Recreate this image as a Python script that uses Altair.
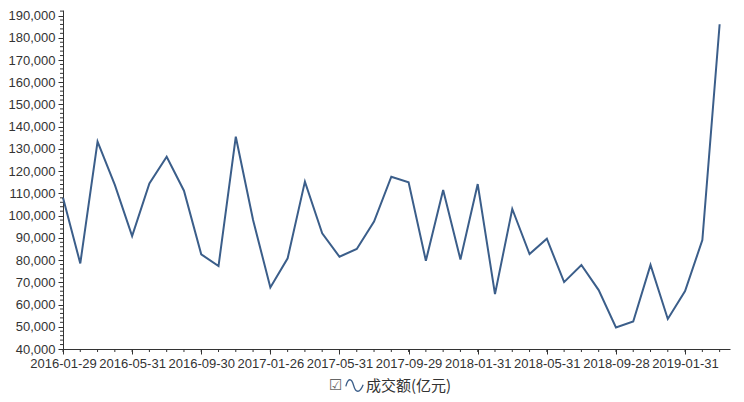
import altair as alt
import pandas as pd

# Month-end trading dates (x categories)
dates = [
    "2016-01-29", "2016-02-29", "2016-03-31", "2016-04-29", "2016-05-31", "2016-06-30",
    "2016-07-29", "2016-08-31", "2016-09-30", "2016-10-31", "2016-11-30", "2016-12-30",
    "2017-01-26", "2017-02-28", "2017-03-31", "2017-04-28", "2017-05-31", "2017-06-30",
    "2017-07-31", "2017-08-31", "2017-09-29", "2017-10-31", "2017-11-30", "2017-12-29",
    "2018-01-31", "2018-02-28", "2018-03-30", "2018-04-27", "2018-05-31", "2018-06-29",
    "2018-07-31", "2018-08-31", "2018-09-28", "2018-10-31", "2018-11-30", "2018-12-28",
    "2019-01-31", "2019-02-28", "2019-03-29",
]
# 成交额(亿元)
values = [
    108000, 78500, 133300, 113800, 90800, 114500, 126500, 111200, 82600, 77300, 135500, 98000,
    67700, 80800, 115300, 92000, 81500, 85000, 97300, 117500, 115000, 79700, 111500, 80300,
    114200, 64700, 103000, 82700, 89600, 70100, 77800, 66500, 49700, 52400, 77800, 53500,
    66100, 89000, 186100,
]
series_name = "成交额(亿元)"
y_major = list(range(40000, 190001, 10000))
y_minor = [v for v in range(40000, 192001, 2000) if v % 10000 != 0]
x_major = list(range(0, 39, 4))
x_minor = list(range(0, 39))

W, H = 667, 339
LINE = "#3b5e8a"
AX = "#333333"

df = pd.DataFrame({"idx": list(range(len(values))), "date": dates, "value": values,
                   "series": [series_name] * len(values)})

label_js = "[" + ",".join("'%s'" % d for d in dates) + "][datum.value]"

xscale = alt.Scale(domain=[0, 38.6], nice=False, zero=False)
yscale = alt.Scale(domain=[40000, 192500], nice=False, zero=False)

xaxis = alt.Axis(values=x_major, labelExpr=label_js, title=None, grid=False,
                 tickSize=5, domainColor=AX, tickColor=AX, labelColor=AX,
                 labelFontSize=13, labelFont="Liberation Sans", labelPadding=3,
                 labelOverlap=False, labelFlush=False)
yaxis = alt.Axis(values=y_major, labelExpr="format(datum.value, ',')", title=None, grid=False,
                 tickSize=5, domainColor=AX, tickColor=AX, labelColor=AX,
                 labelFontSize=13, labelFont="Liberation Sans", labelPadding=3)

wave = "M-1,0.1 C-0.75,-0.9 -0.35,-0.9 -0.1,0 C0.15,0.9 0.6,0.9 1,-0.1"

line = alt.Chart(df).mark_line(strokeWidth=2).encode(
    x=alt.X("idx:Q", scale=xscale, axis=xaxis),
    y=alt.Y("value:Q", scale=yscale, axis=yaxis),
    color=alt.Color("series:N", scale=alt.Scale(range=[LINE]),
                    legend=alt.Legend(title=None, orient="none", legendX=282, legendY=366,
                                      symbolType=wave, symbolSize=300, symbolStrokeWidth=1.3,
                                      symbolFillColor="transparent", symbolStrokeColor=LINE,
                                      labelFont="Noto Sans CJK SC", labelFontSize=15,
                                      labelColor=AX, labelOffset=2, padding=0)),
)

xmin = alt.Chart(pd.DataFrame({"idx": x_minor})).mark_rule(color=AX, strokeWidth=1).encode(
    x=alt.X("idx:Q", scale=xscale, axis=xaxis), y=alt.value(H), y2=alt.value(H + 3))
ymin = alt.Chart(pd.DataFrame({"value": y_minor})).mark_rule(color=AX, strokeWidth=1).encode(
    y=alt.Y("value:Q", scale=yscale, axis=yaxis), x=alt.value(0), x2=alt.value(-3))

check = alt.Chart(pd.DataFrame({"t": ["☑"]})).mark_text(
    font="DejaVu Sans", fontSize=15, color="#666666", align="left", baseline="middle"
).encode(text="t:N", x=alt.value(266), y=alt.value(375))

chart = alt.layer(line, xmin, ymin, check).properties(
    width=W, height=H,
    autosize=alt.AutoSizeParams(type="none"),
    padding={"left": 55, "top": 2, "right": 6, "bottom": 45},
).configure_view(stroke=None)

chart.save("out.html", embed_options={"renderer": "svg", "actions": False})
